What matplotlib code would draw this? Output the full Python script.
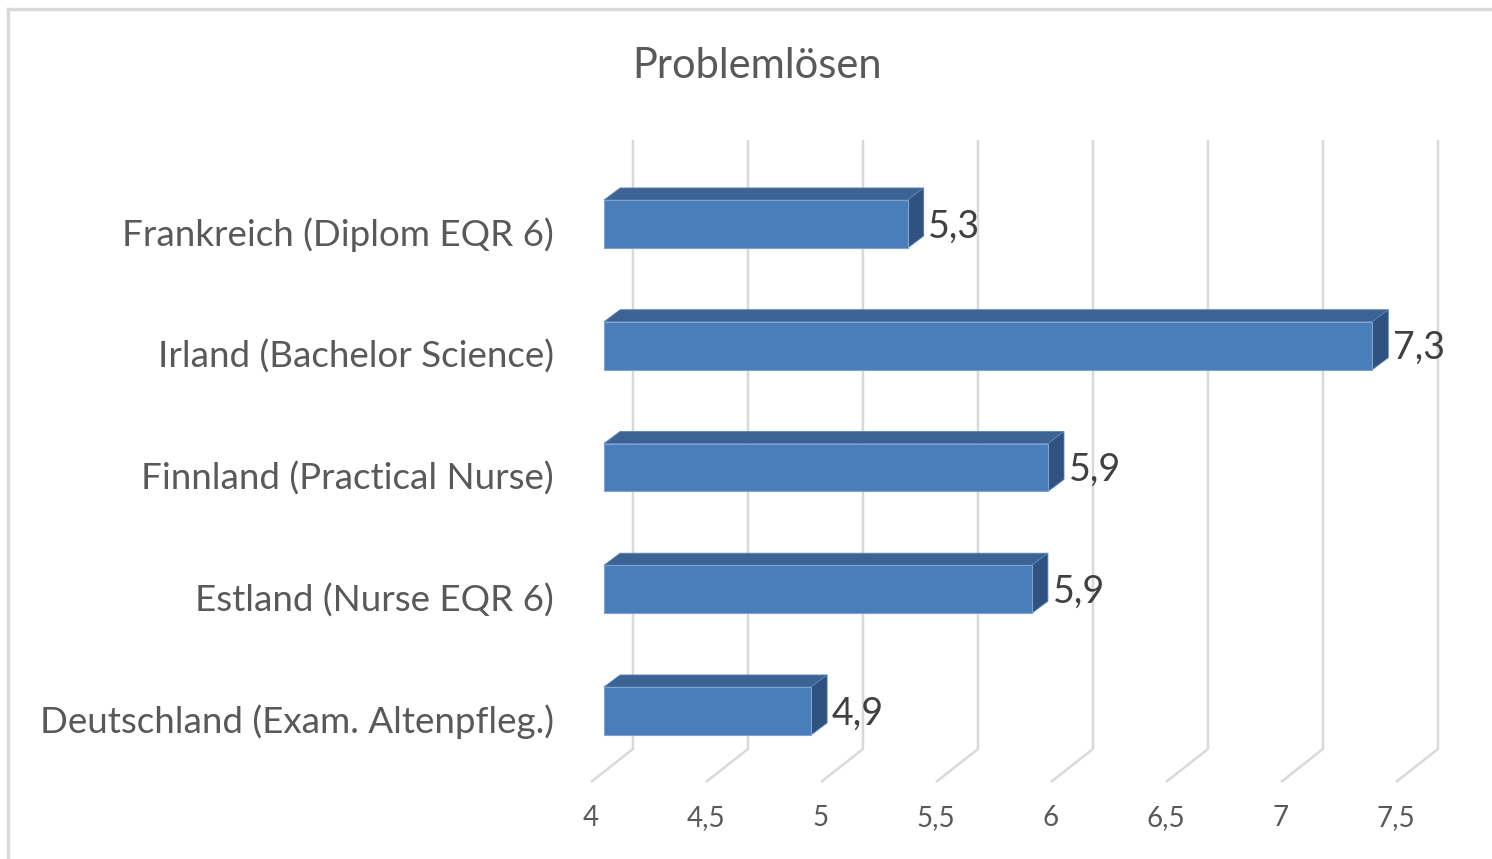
import matplotlib.pyplot as plt
from matplotlib.patches import Polygon

plt.rcParams['font.family'] = ['Lato', 'DejaVu Sans']

# data (bottom to top)
categories = ['Deutschland (Exam. Altenpfleg.)', 'Estland (Nurse EQR 6)',
              'Finnland (Practical Nurse)', 'Irland (Bachelor Science)',
              'Frankreich (Diplom EQR 6)']
values = [4.90, 5.86, 5.93, 7.34, 5.32]
ticks = [4, 4.5, 5, 5.5, 6, 6.5, 7, 7.5]
title = 'Problemlösen'

# 3d look (data units)
base = 4.0
h = 0.197          # half height of bar front face
bdx, bdy = 0.07, 0.099   # bar depth offset
fdx, fy = -0.0565, -0.583  # floor front edge
gdx, gy = 0.126, -0.312    # floor back edge / wall
wall_top = 4.69

front_c = '#4a7ebb'
top_c = '#3b6393'
side_c = '#2f5280'
grid_c = '#d9d9d9'

fig = plt.figure(figsize=(14.92, 8.59), dpi=100)
ax = fig.add_axes([0, 0, 1, 1])
ax.set_xlim(4 - 604 / 230, 4 + 888 / 230)
ax.set_ylim(-148 / 121.75, 711 / 121.75)
ax.axis('off')

# outer frame (top + left)
fig.add_artist(plt.Line2D([8 / 1492, 8 / 1492], [0, 1 - 9 / 859], color=grid_c, lw=2.5))
fig.add_artist(plt.Line2D([8 / 1492, 1], [1 - 9 / 859, 1 - 9 / 859], color=grid_c, lw=2.5))

# gridlines: floor diagonal + back wall
for t in ticks:
    ax.plot([t + fdx, t + gdx, t + gdx], [fy, gy, wall_top], color=grid_c, lw=1.8,
            zorder=1, solid_capstyle='butt')
    ax.text(t + fdx, -0.879, f'{t:g}'.replace('.', ','), ha='center', va='center',
            fontsize=20, color='#595959')

for i, (cat, v) in enumerate(zip(categories, values)):
    front = [(base, i - h), (v, i - h), (v, i + h), (base, i + h)]
    top = [(base, i + h), (v, i + h), (v + bdx, i + h + bdy), (base + bdx, i + h + bdy)]
    side = [(v, i - h), (v + bdx, i - h + bdy), (v + bdx, i + h + bdy), (v, i + h)]
    ax.add_patch(Polygon(top, closed=True, fc=top_c, ec='#5a84b8', lw=0.6, zorder=3))
    ax.add_patch(Polygon(side, closed=True, fc=side_c, ec='#5a84b8', lw=0.6, zorder=3))
    ax.add_patch(Polygon(front, closed=True, fc=front_c, ec='#7fa3d0', lw=0.8, zorder=4))
    ax.text(v + bdx + 0.02, i - 0.02, f'{v:.1f}'.replace('.', ','), ha='left',
            va='center', fontsize=27, color='#404040')
    ax.text(4 + (554 - 604) / 230, i - 0.09, cat, ha='right', va='center',
            fontsize=26.5, color='#595959')

fig.text(757 / 1492, 1 - 66 / 859, title, ha='center', va='center',
         fontsize=30, color='#595959')

fig.savefig('out.png', dpi=100)
